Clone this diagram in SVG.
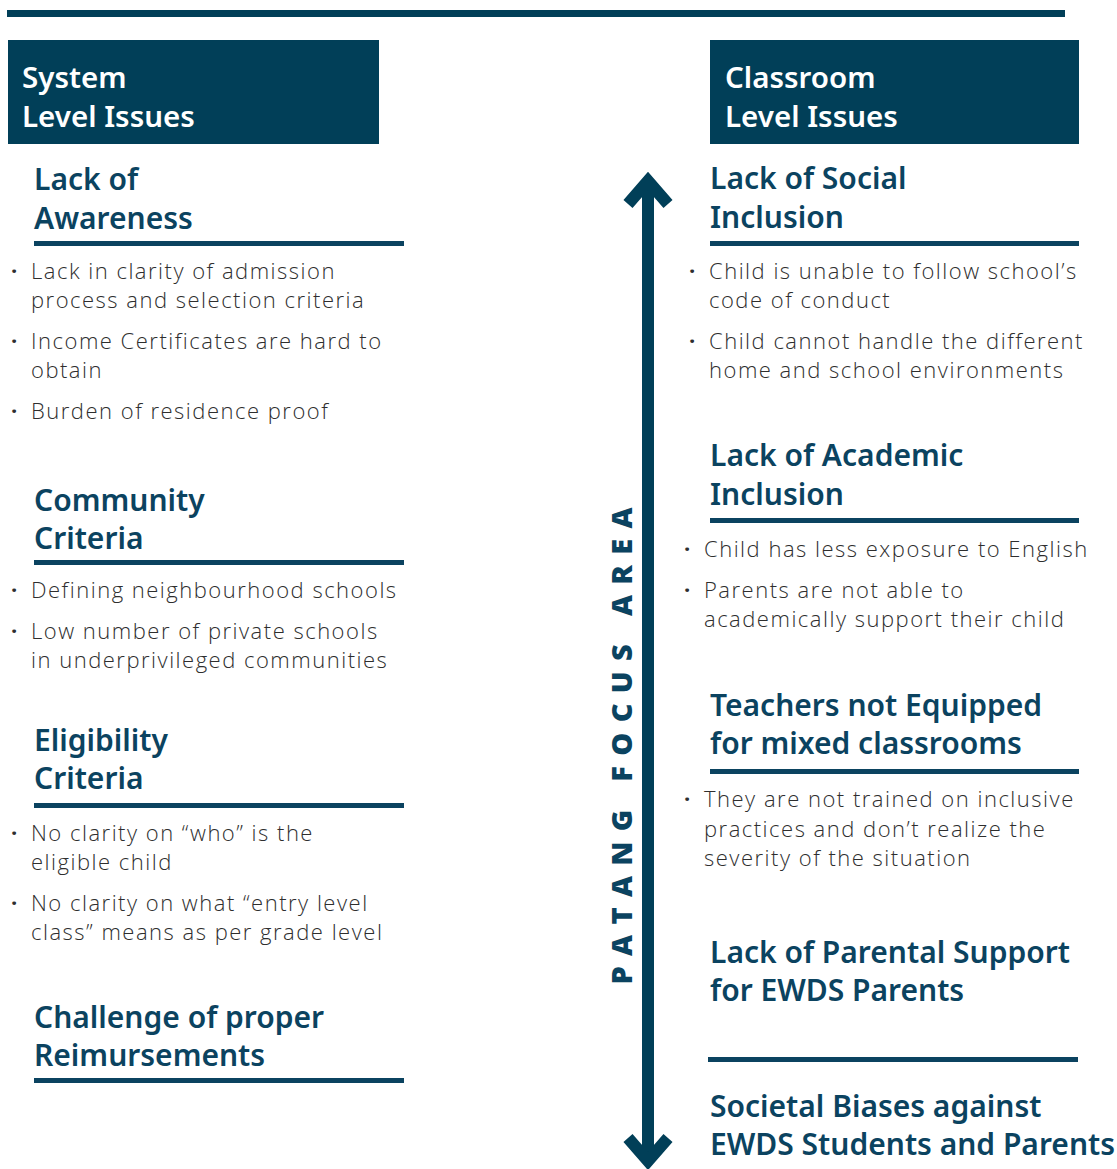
<svg xmlns="http://www.w3.org/2000/svg" width="1117" height="1169" viewBox="0 0 1117 1169">
<style>
.bar{fill:#013F58}
.hdr{font-family:"Noto Sans",sans-serif;font-weight:600;font-size:29.5px;fill:#ffffff}
.h{font-family:"Noto Sans",sans-serif;font-weight:600;font-size:30px;fill:#0B4360}
.b{font-family:"Open Sans",sans-serif;font-weight:300;font-size:22px;fill:#2e2e2e;letter-spacing:1.5px}
.d{font-family:"Open Sans",sans-serif;font-weight:700;font-size:22px;fill:#2e2e2e}
.ul{fill:#0B4360}
.vt{font-family:"Open Sans",sans-serif;font-weight:800;font-size:29px;fill:#0B4360}
</style>
<rect class="bar" x="7" y="10" width="1058" height="7"/>
<g id="hdr-system">
<rect class="bar" x="8" y="40" width="371" height="104"/>
<text class="hdr" x="22" y="88">System</text>
<text class="hdr" x="22" y="127">Level Issues</text>
</g>
<g id="hdr-classroom">
<rect class="bar" x="710" y="40" width="369" height="104"/>
<text class="hdr" x="725" y="88">Classroom</text>
<text class="hdr" x="725" y="127">Level Issues</text>
</g>
<g id="awareness">
<text class="h" x="34" y="190">Lack of</text>
<text class="h" x="34" y="229">Awareness</text>
<rect class="ul" x="34" y="241" width="370" height="5"/>
<text class="d" x="11" y="279">·</text><text class="b" x="31" y="279">Lack in clarity of admission</text>
<text class="b" x="31" y="308">process and selection criteria</text>
<text class="d" x="11" y="349">·</text><text class="b" x="31" y="349">Income Certificates are hard to</text>
<text class="b" x="31" y="378">obtain</text>
<text class="d" x="11" y="419">·</text><text class="b" x="31" y="419">Burden of residence proof</text>
</g>
<g id="community">
<text class="h" x="34" y="511">Community</text>
<text class="h" x="34" y="549">Criteria</text>
<rect class="ul" x="34" y="560" width="370" height="5"/>
<text class="d" x="11" y="598">·</text><text class="b" x="31" y="598">Defining neighbourhood schools</text>
<text class="d" x="11" y="639">·</text><text class="b" x="31" y="639">Low number of private schools</text>
<text class="b" x="31" y="668">in underprivileged communities</text>
</g>
<g id="eligibility">
<text class="h" x="34" y="751">Eligibility</text>
<text class="h" x="34" y="789">Criteria</text>
<rect class="ul" x="34" y="803" width="370" height="5"/>
<text class="d" x="11" y="841">·</text><text class="b" x="31" y="841">No clarity on “who” is the</text>
<text class="b" x="31" y="870">eligible child</text>
<text class="d" x="11" y="911">·</text><text class="b" x="31" y="911">No clarity on what “entry level</text>
<text class="b" x="31" y="940">class” means as per grade level</text>
</g>
<g id="reimbursements">
<text class="h" x="34" y="1028">Challenge of proper</text>
<text class="h" x="34" y="1066">Reimursements</text>
<rect class="ul" x="34" y="1078" width="370" height="5"/>
</g>
<g id="social">
<text class="h" x="710" y="189">Lack of Social</text>
<text class="h" x="710" y="228">Inclusion</text>
<rect class="ul" x="710" y="241" width="369" height="5"/>
<text class="d" x="689" y="279">·</text><text class="b" x="709" y="279">Child is unable to follow school’s</text>
<text class="b" x="709" y="308">code of conduct</text>
<text class="d" x="689" y="349">·</text><text class="b" x="709" y="349">Child cannot handle the different</text>
<text class="b" x="709" y="378">home and school environments</text>
</g>
<g id="academic">
<text class="h" x="710" y="466">Lack of Academic</text>
<text class="h" x="710" y="505">Inclusion</text>
<rect class="ul" x="710" y="518" width="369" height="5"/>
<text class="d" x="684" y="557">·</text><text class="b" x="704" y="557">Child has less exposure to English</text>
<text class="d" x="684" y="598">·</text><text class="b" x="704" y="598">Parents are not able to</text>
<text class="b" x="704" y="627">academically support their child</text>
</g>
<g id="teachers">
<text class="h" x="710" y="716">Teachers not Equipped</text>
<text class="h" x="710" y="754">for mixed classrooms</text>
<rect class="ul" x="710" y="769" width="369" height="5"/>
<text class="d" x="684" y="807">·</text><text class="b" x="704" y="807">They are not trained on inclusive</text>
<text class="b" x="704" y="837">practices and don’t realize the</text>
<text class="b" x="704" y="866">severity of the situation</text>
</g>
<g id="parental">
<text class="h" x="710" y="963">Lack of Parental Support</text>
<text class="h" x="710" y="1001">for EWDS Parents</text>
<rect class="ul" x="708" y="1057" width="370" height="5"/>
</g>
<g id="societal">
<text class="h" x="710" y="1117">Societal Biases against</text>
<text class="h" x="710" y="1155">EWDS Students and Parents</text>
</g>
<g id="connectors">
<line x1="648" y1="182" x2="648" y2="1160" stroke="#013F58" stroke-width="12"/>
<polyline points="628,204 648,181 668,204" fill="none" stroke="#013F58" stroke-width="12" stroke-miterlimit="10"/>
<polyline points="628,1138 648,1161 668,1138" fill="none" stroke="#013F58" stroke-width="12" stroke-miterlimit="10"/>
</g>
<g id="focus-label">
<text class="vt" transform="translate(632,746) rotate(-90)" text-anchor="middle" textLength="477" lengthAdjust="spacing">PATANG FOCUS AREA</text>
</g>
</svg>
